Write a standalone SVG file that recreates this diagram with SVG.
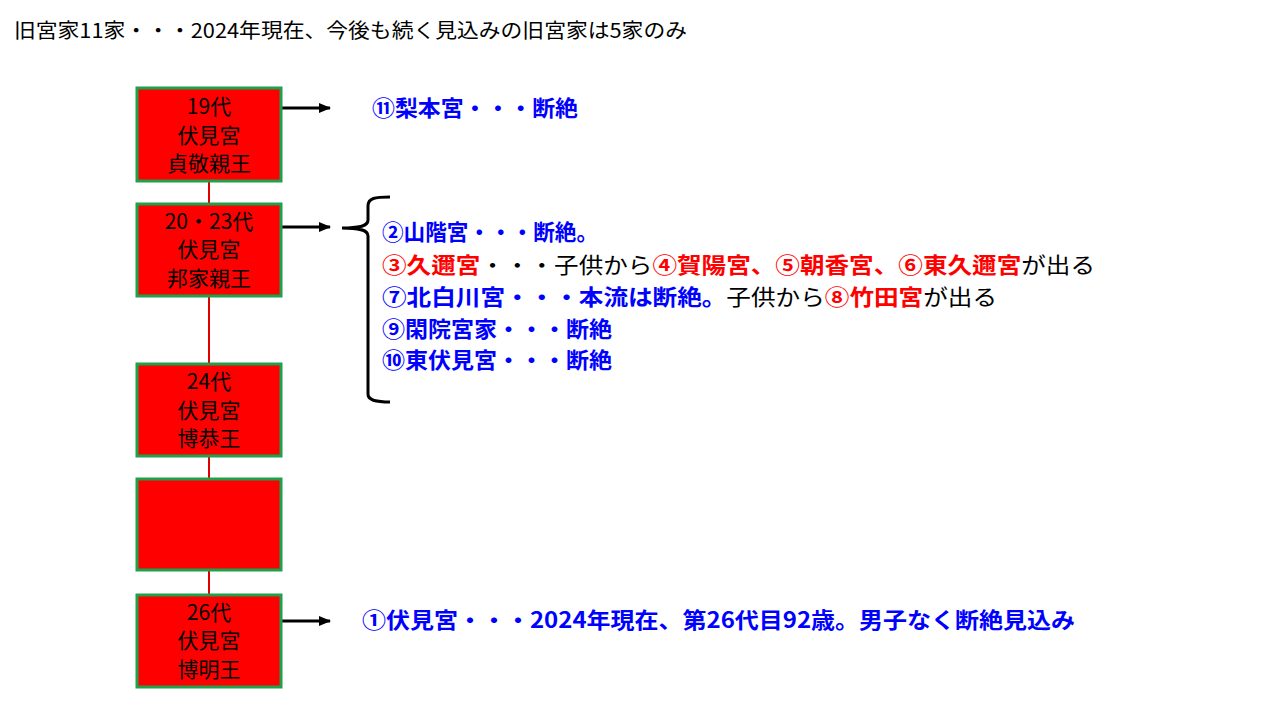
<svg xmlns="http://www.w3.org/2000/svg" width="1280" height="720" viewBox="0 0 1280 720">
<defs>
<marker id="ah" markerWidth="12" markerHeight="10" refX="11" refY="5" orient="auto" markerUnits="userSpaceOnUse">
<path d="M0,0 L12,5 L0,10 Z" fill="#000"/>
</marker>
<style>
.box{fill:#FF0000;stroke:#1FA04A;stroke-width:3}
.bt{font-family:"Noto Sans CJK JP","Liberation Sans",sans-serif;font-size:21px;fill:#000;text-anchor:middle}
.t{font-family:"Noto Sans CJK JP","Liberation Sans",sans-serif;font-size:22px;font-weight:bold}
.b{fill:#0000FF}
.r{fill:#FF0000}
.k{fill:#000;font-weight:normal}
.arr{stroke:#000;stroke-width:3;fill:none}
.ln{stroke:#E00000;stroke-width:2}
</style>
</defs>
<rect width="1280" height="720" fill="#fff"/>
<text x="14" y="38" font-family="'Noto Sans CJK JP','Liberation Sans',sans-serif" font-size="20" fill="#000" textLength="673" lengthAdjust="spacingAndGlyphs">旧宮家11家・・・2024年現在、今後も続く見込みの旧宮家は5家のみ</text>
<g id="connectors">
<line class="ln" x1="209" y1="181" x2="209" y2="595"/>
<line class="arr" x1="282" y1="108" x2="330" y2="108" marker-end="url(#ah)"/>
<line class="arr" x1="282" y1="227" x2="330" y2="227" marker-end="url(#ah)"/>
<line class="arr" x1="282" y1="621" x2="330" y2="621" marker-end="url(#ah)"/>
</g>
<g id="n19">
<rect class="box" x="137" y="88" width="144" height="93"/>
<text class="bt" x="209" y="114">19代</text>
<text class="bt" x="209" y="143">伏見宮</text>
<text class="bt" x="209" y="171">貞敬親王</text>
</g>
<g id="n20">
<rect class="box" x="137" y="204" width="144" height="92"/>
<text class="bt" x="209" y="229">20・23代</text>
<text class="bt" x="209" y="257">伏見宮</text>
<text class="bt" x="209" y="286">邦家親王</text>
</g>
<g id="n24">
<rect class="box" x="137" y="364" width="144" height="92"/>
<text class="bt" x="209" y="389">24代</text>
<text class="bt" x="209" y="418">伏見宮</text>
<text class="bt" x="209" y="446">博恭王</text>
</g>
<g id="n25">
<rect class="box" x="137" y="479" width="144" height="91"/>
</g>
<g id="n26">
<rect class="box" x="137" y="595" width="144" height="92"/>
<text class="bt" x="209" y="620">26代</text>
<text class="bt" x="209" y="648">伏見宮</text>
<text class="bt" x="209" y="677">博明王</text>
</g>
<g id="brace">
<path d="M390,197 C375,197 368,198 368,206 L368,220 C368,226 360,228 342,228 C360,228 368,230 368,236 L368,394 C368,400 375,402 390,402" fill="none" stroke="#000" stroke-width="3"/>
</g>
<g id="labels">
<text class="t b" x="372" y="116" textLength="206" lengthAdjust="spacingAndGlyphs">⑪梨本宮・・・断絶</text>
<text class="t b" x="382" y="240" textLength="216" lengthAdjust="spacingAndGlyphs">②山階宮・・・断絶。</text>
<text class="t" x="382" y="273" textLength="713" lengthAdjust="spacingAndGlyphs"><tspan class="r">③久邇宮</tspan><tspan class="k">・・・子供から</tspan><tspan class="r">④賀陽宮、⑤朝香宮、⑥東久邇宮</tspan><tspan class="k">が出る</tspan></text>
<text class="t" x="382" y="305" textLength="615" lengthAdjust="spacingAndGlyphs"><tspan class="b">⑦北白川宮・・・本流は断絶。</tspan><tspan class="k">子供から</tspan><tspan class="r">⑧竹田宮</tspan><tspan class="k">が出る</tspan></text>
<text class="t b" x="382" y="337" textLength="230" lengthAdjust="spacingAndGlyphs">⑨閑院宮家・・・断絶</text>
<text class="t b" x="382" y="368" textLength="230" lengthAdjust="spacingAndGlyphs">⑩東伏見宮・・・断絶</text>
<text class="t b" x="362" y="628" textLength="713" lengthAdjust="spacingAndGlyphs">①伏見宮・・・2024年現在、第26代目92歳。男子なく断絶見込み</text>
</g>
</svg>
